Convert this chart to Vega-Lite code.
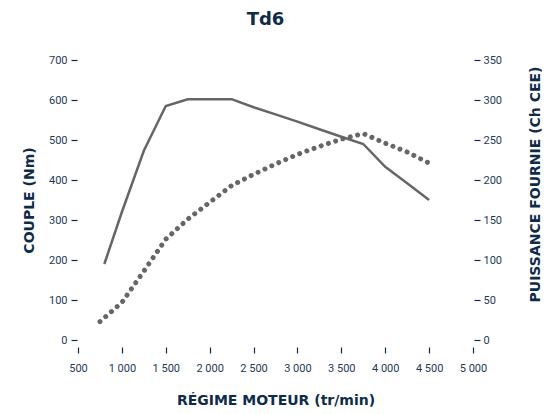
{
  "$schema": "https://vega.github.io/schema/vega-lite/v6.json",
  "autosize": "none",
  "padding": {"left": 78, "top": 60, "right": 74, "bottom": 74},
  "width": 395,
  "height": 280,
  "title": {
    "text": "Td6",
    "font": "DejaVu Sans",
    "fontSize": 18,
    "fontWeight": "bold",
    "color": "#0e2c4a",
    "anchor": "middle",
    "dx": -10,
    "offset": 25
  },
  "datasets": {
    "couple": [
      {"rpm": 800, "couple": 190},
      {"rpm": 1000, "couple": 320},
      {"rpm": 1250, "couple": 473},
      {"rpm": 1500, "couple": 585},
      {"rpm": 1750, "couple": 602},
      {"rpm": 2000, "couple": 602},
      {"rpm": 2250, "couple": 602},
      {"rpm": 2500, "couple": 582},
      {"rpm": 2750, "couple": 564},
      {"rpm": 3000, "couple": 546},
      {"rpm": 3250, "couple": 527},
      {"rpm": 3500, "couple": 508},
      {"rpm": 3750, "couple": 490},
      {"rpm": 4000, "couple": 433},
      {"rpm": 4250, "couple": 392},
      {"rpm": 4500, "couple": 350}
    ],
    "puissance": [
      {"rpm": 750, "puissance": 23},
      {"rpm": 1000, "puissance": 47},
      {"rpm": 1250, "puissance": 86},
      {"rpm": 1500, "puissance": 126},
      {"rpm": 1750, "puissance": 151},
      {"rpm": 2000, "puissance": 172},
      {"rpm": 2250, "puissance": 193},
      {"rpm": 2500, "puissance": 207},
      {"rpm": 2750, "puissance": 220},
      {"rpm": 3000, "puissance": 232},
      {"rpm": 3250, "puissance": 242},
      {"rpm": 3500, "puissance": 251},
      {"rpm": 3750, "puissance": 258},
      {"rpm": 4000, "puissance": 246},
      {"rpm": 4250, "puissance": 235},
      {"rpm": 4500, "puissance": 221}
    ]
  },
  "encoding": {
    "x": {
      "field": "rpm",
      "type": "quantitative",
      "scale": {"domain": [500, 5000], "nice": false, "zero": false},
      "axis": {
        "values": [500, 1000, 1500, 2000, 2500, 3000, 3500, 4000, 4500, 5000],
        "labelExpr": "replace(format(datum.value, ','), ',', ' ')",
        "labelFlush": false,
        "title": "RÉGIME MOTEUR (tr/min)",
        "offset": 7,
        "grid": false,
        "domain": false,
        "tickSize": 6,
        "labelPadding": 9,
        "titlePadding": 20
      }
    }
  },
  "layer": [
    {
      "data": {"name": "couple"},
      "mark": {"type": "line", "color": "#666666", "strokeWidth": 2.5},
      "encoding": {
        "y": {
          "field": "couple",
          "type": "quantitative",
          "scale": {"domain": [0, 700], "nice": false},
          "axis": {
            "orient": "left",
            "values": [0, 100, 200, 300, 400, 500, 600, 700],
            "title": "COUPLE (Nm)",
            "grid": false,
            "domain": false,
            "offset": 1,
            "tickSize": 6,
            "labelPadding": 4,
            "titlePadding": 12
          }
        }
      }
    },
    {
      "data": {"name": "puissance"},
      "mark": {"type": "line", "color": "#666666", "strokeWidth": 5, "strokeDash": [0.01, 7.6], "strokeCap": "round"},
      "encoding": {
        "y": {
          "field": "puissance",
          "type": "quantitative",
          "scale": {"domain": [0, 350], "nice": false},
          "axis": {
            "orient": "right",
            "values": [0, 50, 100, 150, 200, 250, 300, 350],
            "title": "PUISSANCE FOURNIE (Ch CEE)",
            "titleAngle": 270,
            "titleX": 61,
            "titleY": 124,
            "titleAlign": "center",
            "titleBaseline": "middle",
            "grid": false,
            "domain": false,
            "offset": 1,
            "tickSize": 6,
            "labelPadding": 3
          }
        }
      }
    }
  ],
  "resolve": {"scale": {"y": "independent"}},
  "config": {
    "view": {"stroke": null},
    "axis": {
      "labelFont": "Roboto",
      "labelFontSize": 11,
      "labelColor": "#1d3a57",
      "tickColor": "#0e2c4a",
      "tickWidth": 1.2,
      "titleFont": "DejaVu Sans",
      "titleFontSize": 14,
      "titleFontWeight": "bold",
      "titleColor": "#0e2c4a"
    }
  }
}
